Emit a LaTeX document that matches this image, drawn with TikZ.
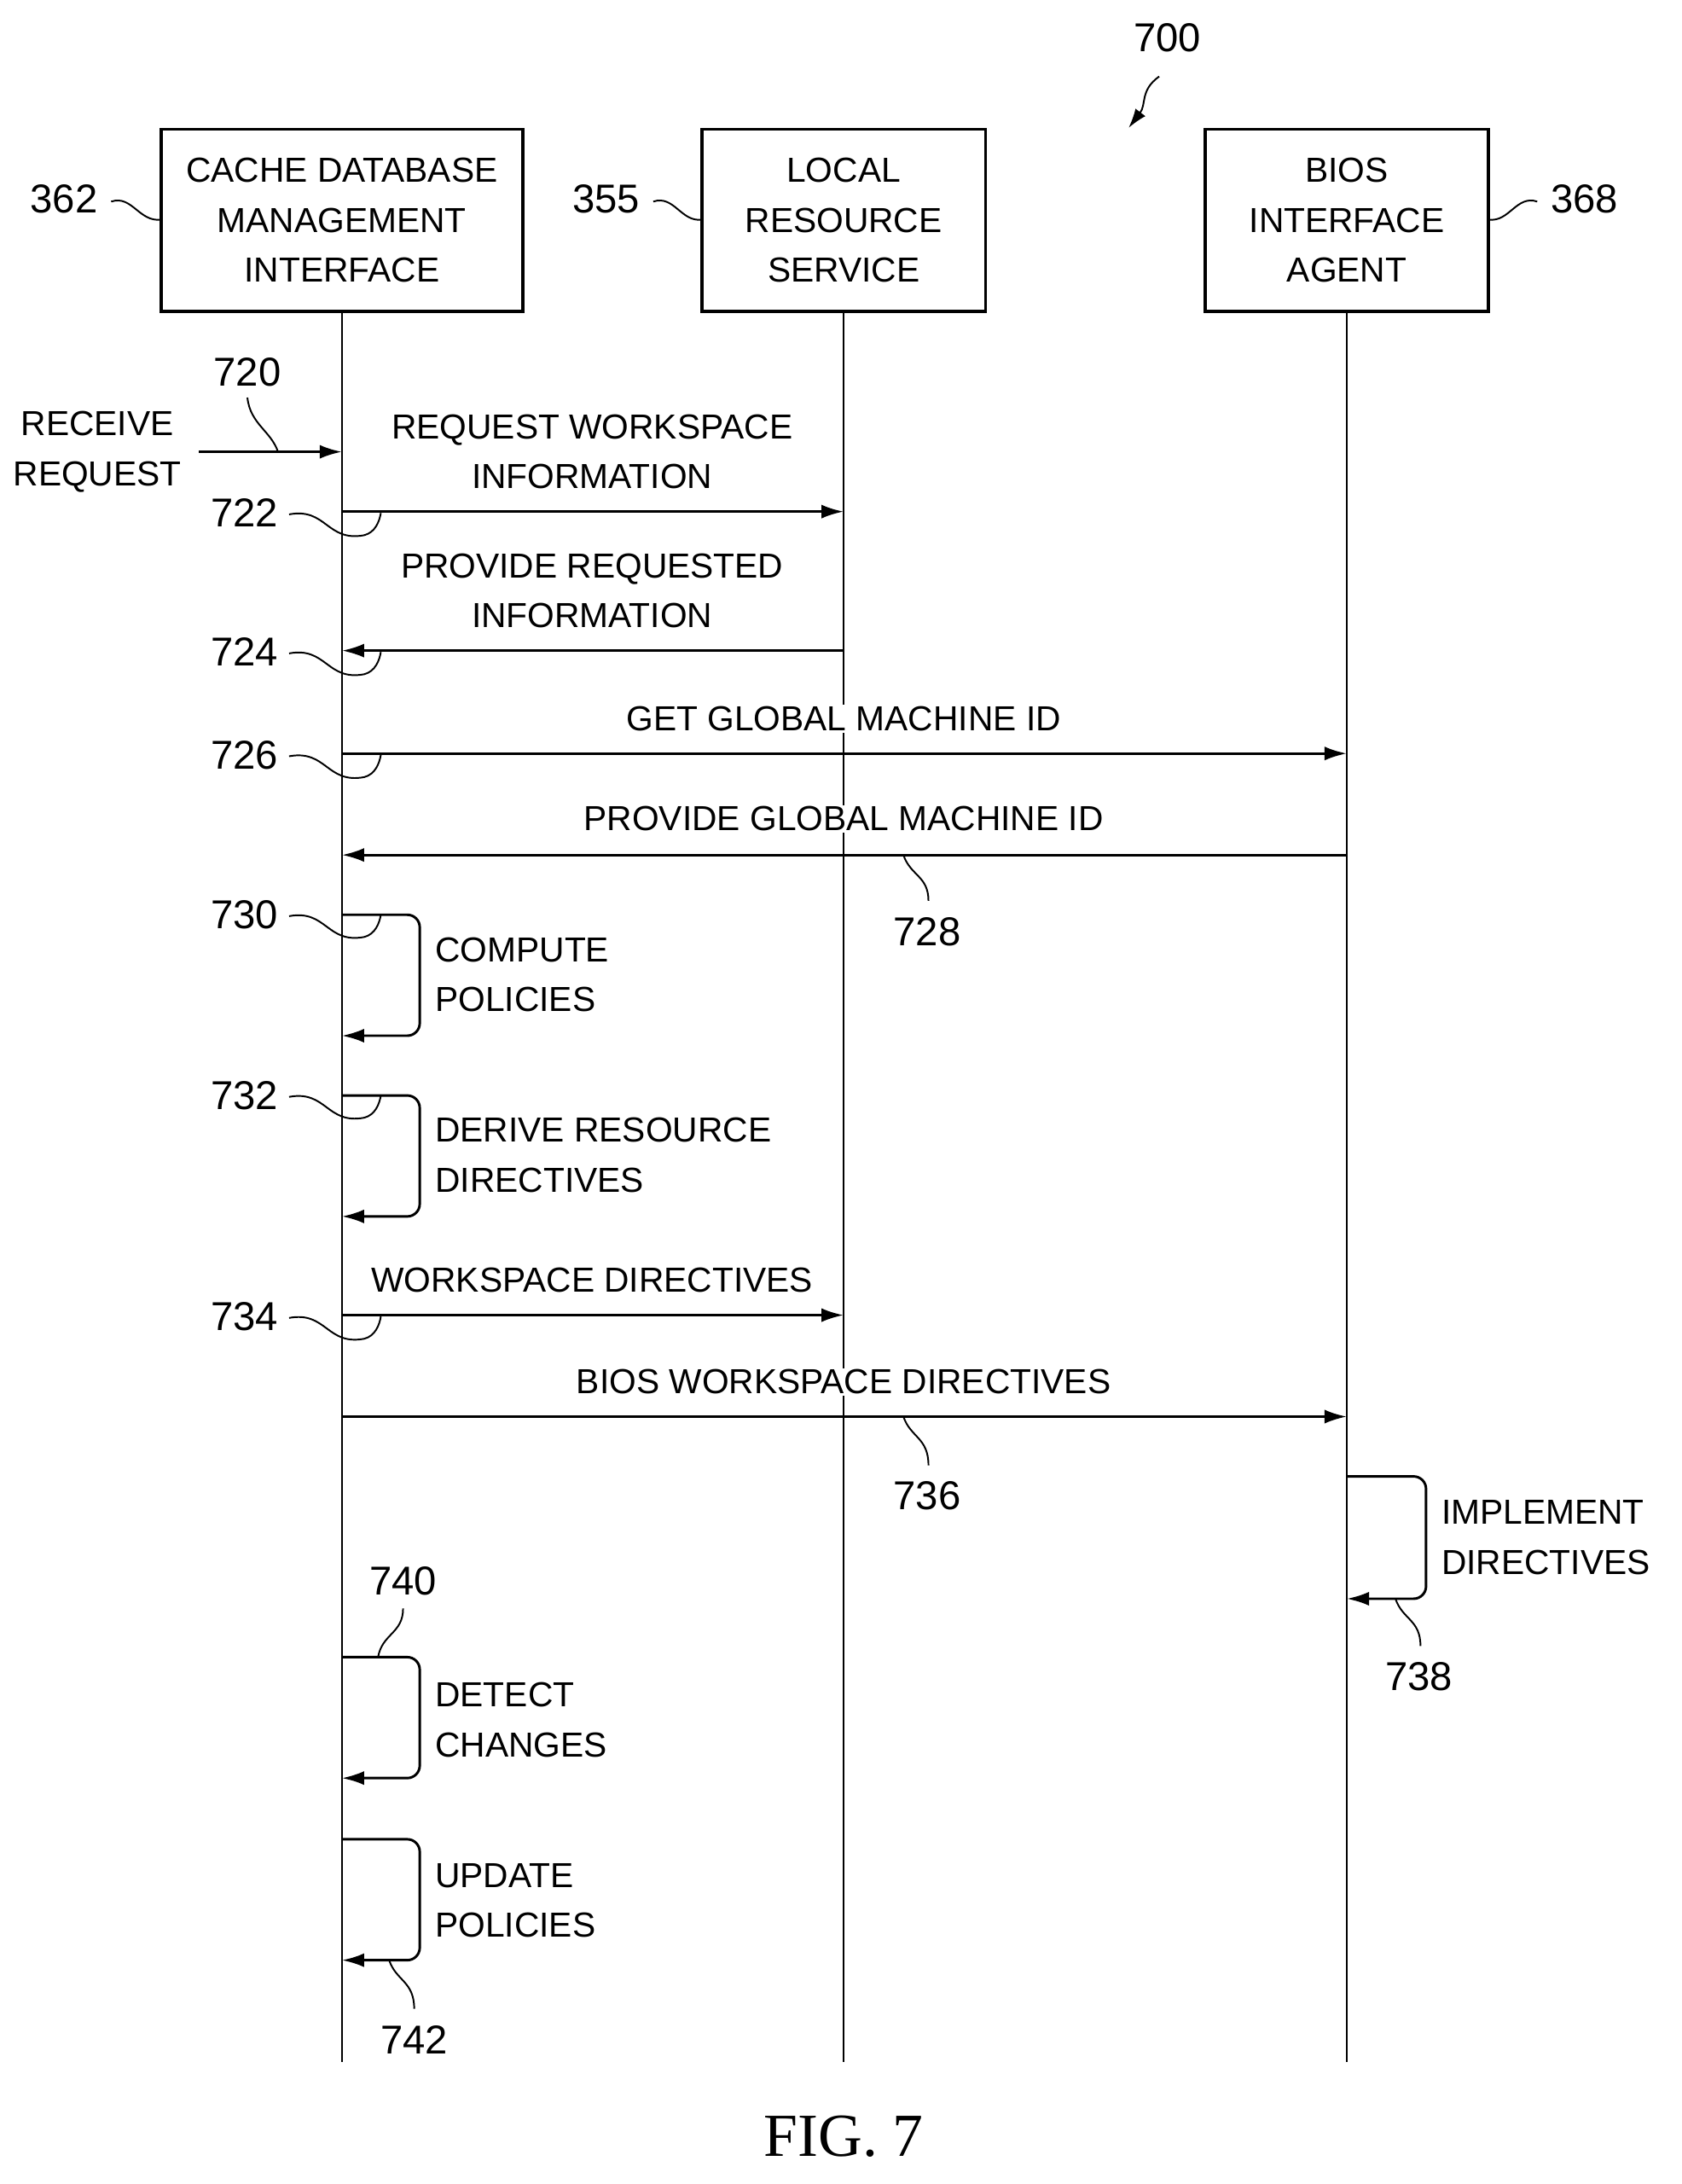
\documentclass[tikz,border=0pt]{standalone}
\usepackage{fontspec}
\setmainfont{Liberation Sans}
\newfontfamily\figfont{Liberation Serif}
\usetikzlibrary{arrows.meta}
\begin{document}
\begin{tikzpicture}[x=1pt,y=-1pt,
  lbl/.style={font=\fontsize{25}{36}\selectfont,align=center,inner sep=1pt},
  llbl/.style={font=\fontsize{25}{36}\selectfont,align=left,inner sep=1pt,anchor=west},
  num/.style={font=\fontsize{29}{34}\selectfont,inner sep=1pt},
  box/.style={draw,line width=2.2pt,minimum width=260,minimum height=131,font=\fontsize{25}{36}\selectfont,align=center},
  life/.style={line width=1.6pt},
  msg/.style={line width=1.8pt,-{Latex[length=16,width=10]}},
  lead/.style={line width=1.2pt}]
\useasboundingbox (0,0) rectangle (1210,1571);
\node[box] (b1) at (246,158.5) {CACHE DATABASE\\MANAGEMENT\\INTERFACE};
\node[box,minimum width=204] (b2) at (607,158.5) {LOCAL\\RESOURCE\\SERVICE};
\node[box,minimum width=204] (b3) at (969,158.5) {BIOS\\INTERFACE\\AGENT};
\coordinate (e1) at (246,1483); \coordinate (e2) at (607,1483); \coordinate (e3) at (969,1483);
\draw[life] (b1.south) -- (e1); \draw[life] (b2.south) -- (e2); \draw[life] (b3.south) -- (e3);
% ref numbers on boxes
\node[num] (n362) at (46,143) {362}; \draw[lead] (80,145) .. controls (95,140) and (100,160) .. (116,158);
\node[num] (n355) at (436,143) {355}; \draw[lead] (470,145) .. controls (485,140) and (490,160) .. (505,158);
\node[num] (n368) at (1140,143) {368}; \draw[lead] (1106,145) .. controls (1091,140) and (1086,160) .. (1071,158);
\node[num] (n700) at (840,27) {700};
\draw[lead,-{Latex[length=14,width=9]}] (834,55) .. controls (820,65) and (825,75) .. (812,92);
% 720
\coordinate (s720) at (143,325); \coordinate (t720) at (246,325);
\draw[msg] (s720) -- (t720);
\node[lbl] (rr) at (70,325) {RECEIVE\\REQUEST};
\node[num] (n720) at (178,268) {720}; \draw[lead] (178,286) .. controls (180,305) and (195,310) .. (200,325);
% messages
\draw[msg] (246,368) -- (607,368);
\node[lbl] at (426,325) {REQUEST WORKSPACE\\INFORMATION};
\node[num] at (176,369) {722}; \draw[lead] (208,370) .. controls (235,365) and (235,390) .. (262,385) .. controls (270,383) and (273,375) .. (274,369);
\draw[msg] (607,468) -- (246,468);
\node[lbl] at (426,425) {PROVIDE REQUESTED\\INFORMATION};
\node[num] at (176,469) {724}; \draw[lead] (208,470) .. controls (235,465) and (235,490) .. (262,485) .. controls (270,483) and (273,475) .. (274,469);
\draw[msg] (246,542) -- (969,542);
\node[lbl,fill=white] at (607,517) {GET GLOBAL MACHINE ID};
\node[num] at (176,543) {726}; \draw[lead] (208,544) .. controls (235,539) and (235,564) .. (262,559) .. controls (270,557) and (273,549) .. (274,543);
\draw[msg] (969,615) -- (246,615);
\node[lbl,fill=white] at (607,589) {PROVIDE GLOBAL MACHINE ID};
\node[num] at (667,670) {728}; \draw[lead] (650,615) .. controls (655,630) and (668,630) .. (668,648);
% self loops
\draw[msg,rounded corners=9] (246,658) -- (302,658) -- (302,745) -- (246,745);
\node[llbl] at (312,701) {COMPUTE\\POLICIES};
\node[num] at (176,658) {730}; \draw[lead] (208,659) .. controls (235,654) and (235,679) .. (262,674) .. controls (270,672) and (273,664) .. (274,658);
\draw[msg,rounded corners=9] (246,788) -- (302,788) -- (302,875) -- (246,875);
\node[llbl] at (312,831) {DERIVE RESOURCE\\DIRECTIVES};
\node[num] at (176,788) {732}; \draw[lead] (208,789) .. controls (235,784) and (235,809) .. (262,804) .. controls (270,802) and (273,794) .. (274,788);
\draw[msg] (246,946) -- (607,946);
\node[lbl] at (426,921) {WORKSPACE DIRECTIVES};
\node[num] at (176,947) {734}; \draw[lead] (208,948) .. controls (235,943) and (235,968) .. (262,963) .. controls (270,961) and (273,953) .. (274,947);
\draw[msg] (246,1019) -- (969,1019);
\node[lbl,fill=white] at (607,994) {BIOS WORKSPACE DIRECTIVES};
\node[num] at (667,1076) {736}; \draw[lead] (650,1019) .. controls (655,1034) and (668,1034) .. (668,1054);
\draw[msg,rounded corners=9] (969,1062) -- (1026,1062) -- (1026,1150) -- (969,1150);
\node[llbl] at (1036,1106) {IMPLEMENT\\DIRECTIVES};
\node[num] at (1021,1206) {738}; \draw[lead] (1004,1150) .. controls (1009,1165) and (1022,1165) .. (1022,1184);
\draw[msg,rounded corners=9] (246,1192) -- (302,1192) -- (302,1279) -- (246,1279);
\node[llbl] at (312,1237) {DETECT\\CHANGES};
\node[num] at (290,1137) {740}; \draw[lead] (290,1157) .. controls (290,1175) and (275,1175) .. (272,1192);
\draw[msg,rounded corners=9] (246,1323) -- (302,1323) -- (302,1410) -- (246,1410);
\node[llbl] at (312,1367) {UPDATE\\POLICIES};
\node[num] at (298,1467) {742}; \draw[lead] (280,1410) .. controls (285,1425) and (298,1425) .. (298,1445);
\node[font=\figfont\fontsize{44}{50}\selectfont] at (607,1537) {FIG. 7};
\end{tikzpicture}
\end{document}
